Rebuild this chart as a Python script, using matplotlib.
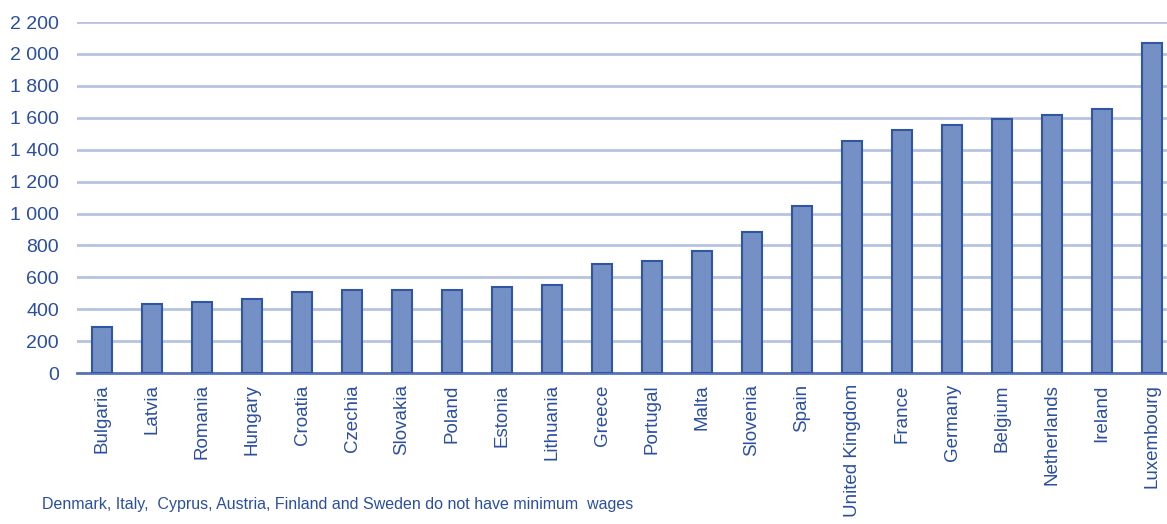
import numpy as np
import matplotlib.pyplot as plt

countries = ["Bulgaria", "Latvia", "Romania", "Hungary", "Croatia", "Czechia",
             "Slovakia", "Poland", "Estonia", "Lithuania", "Greece", "Portugal",
             "Malta", "Slovenia", "Spain", "United Kingdom", "France", "Germany",
             "Belgium", "Netherlands", "Ireland", "Luxembourg"]
wages = [286, 430, 446, 464, 506, 519, 520, 523, 540, 555, 684, 700,
         762, 887, 1050, 1453, 1521, 1557, 1594, 1616, 1656, 2071]
yticks = [0, 200, 400, 600, 800, 1000, 1200, 1400, 1600, 1800, 2000, 2200]
ytick_labels = ["0", "200", "400", "600", "800", "1 000", "1 200", "1 400",
                "1 600", "1 800", "2 000", "2 200"]
note = "Denmark, Italy,  Cyprus, Austria, Finland and Sweden do not have minimum  wages"

text_col = "#2b4f9e"
plt.rcParams['font.family'] = ['Liberation Sans', 'DejaVu Sans']

fig = plt.figure(figsize=(11.67, 5.24), dpi=100)
ax = fig.add_axes([0.066, 0.288, 0.934, 0.67])

x = np.arange(len(countries))
ax.bar(x, wages, width=0.39, color="#7490c5", edgecolor="#2f55a3", linewidth=1.5, zorder=3)

ax.set_ylim(0, 2200)
ax.set_xlim(-0.5, 21.3)
ax.set_yticks(yticks)
ax.set_yticklabels(ytick_labels, fontsize=14, color=text_col)
ax.set_xticks(x)
ax.set_xticklabels(countries, rotation=90, fontsize=13.5, color=text_col)
ax.tick_params(axis="x", length=0, pad=8)
ax.tick_params(axis="y", length=0, pad=13)

ax.yaxis.grid(True, color="#b7c3e0", linewidth=2, zorder=0)
ax.set_axisbelow(True)
for s in ["top", "right", "left"]:
    ax.spines[s].set_visible(False)
ax.spines["bottom"].set_color("#5873b5")
ax.spines["bottom"].set_linewidth(2)

fig.text(0.036, 0.022, note, fontsize=11.5, color=text_col, ha="left", va="bottom")

fig.savefig("out.png", dpi=100)
